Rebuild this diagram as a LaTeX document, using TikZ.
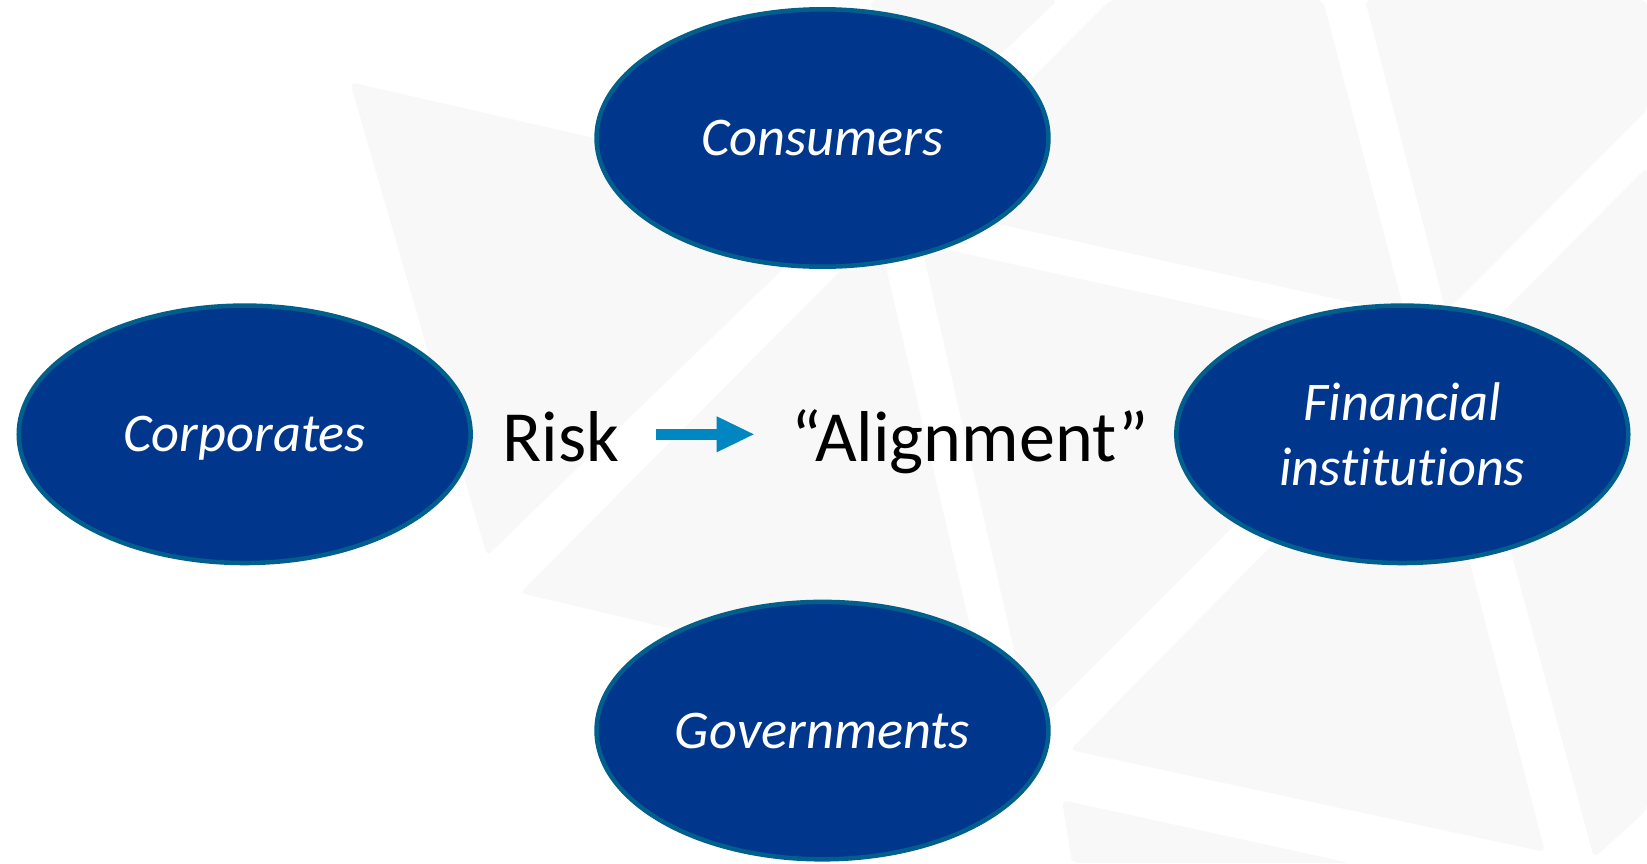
\documentclass[tikz,border=0pt]{standalone}
\usepackage{fontspec}
\setmainfont{Carlito}[Ligatures=NoCommon]
\usetikzlibrary{shapes.geometric,arrows.meta}
\definecolor{tilegray}{HTML}{F8F8F8}
\definecolor{blobfill}{HTML}{00378C}
\definecolor{blobline}{HTML}{005F8C}
\definecolor{flowblue}{HTML}{0086C0}

\begin{document}
\begin{tikzpicture}[x=0.02cm,y=-0.02cm,
    tile/.style={fill=tilegray,rounded corners=0.12cm},
    blob/.style={ellipse,draw=blobline,fill=blobfill,line width=0.09cm,
        minimum width=9.04cm,minimum height=5.15cm,inner sep=0pt,
        text=white,font=\fontsize{31}{37}\selectfont\itshape,
        text height=20pt,text depth=0pt},
    word/.style={inner sep=0pt,font=\fontsize{41}{49}\selectfont,
        text height=31pt,text depth=0pt},
    flow/.style={draw=flowblue,line width=0.22cm,
        -{Triangle[length=0.74cm,width=0.72cm,line width=0pt]},
        shorten <=0.73cm,shorten >=0.74cm}]
    \useasboundingbox (0,0) rectangle (1647,863);
    % faint tiles in the back
    \fill[tile] (350,82) -- (856,198) -- (487,556) -- cycle;
    \fill[tile] (520,593) -- (878,233) -- (988,703) -- cycle;
    \fill[tile] (921,244) -- (1408,351) -- (1032,728) -- cycle;
    \fill[tile] (1425,390) -- (1545,852) -- (1070,750) -- cycle;
    \fill[tile] (1062,800) -- (1350,863) -- (1072,863) -- cycle;
    \fill[tile] (1647,167) -- (1458,357) -- (1594,858) -- (1647,810) -- cycle;
    \fill[tile] (1365,0) -- (1647,0) -- (1647,110) -- (1446,312) -- cycle;
    \fill[tile] (1110,0) -- (1323,0) -- (1405,314) -- (907,204) -- cycle;
    \fill[tile] (870,0) -- (1058,0) -- (900,150) -- cycle;
    % the four groups
    \node[blob] (cons) at (822.5,138) {Consumers};
    \node[blob] (corp) at (244.7,434.3) {Corporates};
    \node[blob,text height={},text depth={},align=center] (fin) at (1402.3,434.3) {Financial\\institutions};
    \node[blob] (gov) at (822.5,730.6) {Governments};
    % middle
    \node[word] (risk) at (561,434.3) {Risk};
    \node[word] (alignment) at (970,434.3) {“Alignment”};
    \draw[flow] (risk) -- (alignment);
\end{tikzpicture}
\end{document}
